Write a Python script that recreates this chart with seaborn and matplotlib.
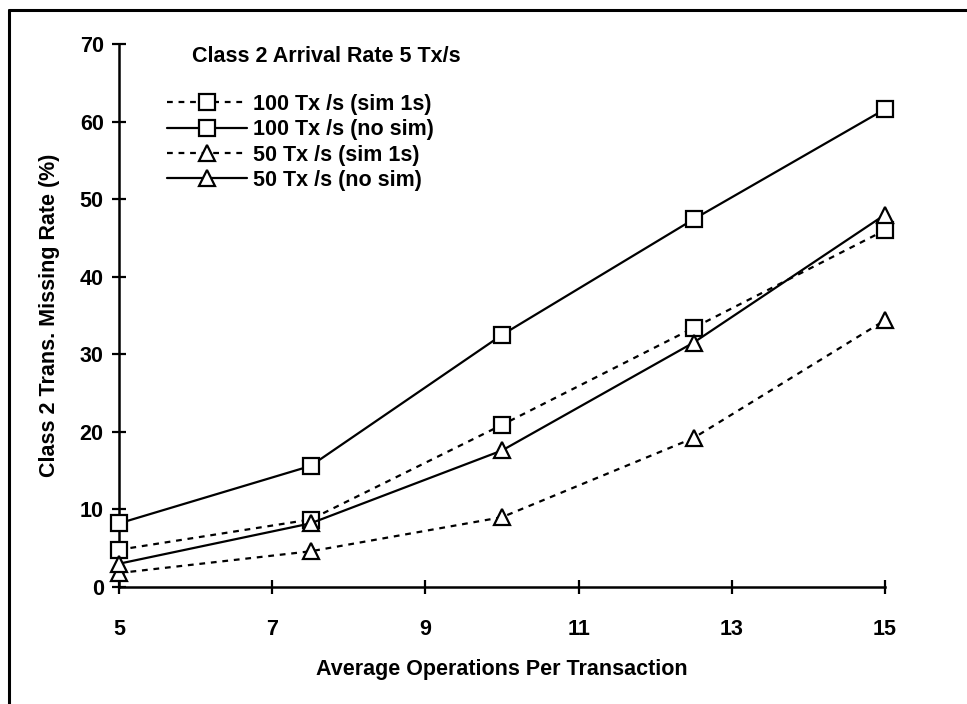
import matplotlib
matplotlib.use("Agg")
import matplotlib.pyplot as plt
from matplotlib.lines import Line2D
import seaborn as sns
import pandas as pd

# Average operations per transaction
ops = [5, 7.5, 10, 12.5, 15]

# Class 2 transaction missing rate (%)
rate_100_sim = [4.8, 8.7, 20.9, 33.4, 46.0]
rate_100_nosim = [8.2, 15.6, 32.5, 47.4, 61.6]
rate_50_sim = [1.8, 4.6, 9.0, 19.2, 34.4]
rate_50_nosim = [3.0, 8.2, 17.6, 31.5, 48.0]

series_labels = ["100 Tx /s (sim 1s)", "100 Tx /s (no sim)",
                 "50 Tx /s (sim 1s)", "50 Tx /s (no sim)"]
series_values = [rate_100_sim, rate_100_nosim, rate_50_sim, rate_50_nosim]
series_markers = ["s", "s", "^", "^"]
series_dashed = [True, False, True, False]

x_ticks = [5, 7, 9, 11, 13, 15]
y_ticks = [0, 10, 20, 30, 40, 50, 60, 70]

legend_title = "Class 2 Arrival Rate 5 Tx/s"
x_label = "Average Operations Per Transaction"
y_label = "Class 2 Trans. Missing Rate (%)"

sns.set_theme(style="white")
plt.rcParams["font.family"] = ["Liberation Sans", "DejaVu Sans"]
plt.rcParams["font.weight"] = "bold"
plt.rcParams["text.color"] = "black"
plt.rcParams["axes.labelcolor"] = "black"

FS = 15.5

fig = plt.figure(figsize=(9.67, 7.04), dpi=100)
ax = fig.add_axes([119 / 967, 1 - 587 / 704, 766 / 967, 543 / 704])

for label, vals, mk, dashed in zip(series_labels, series_values,
                                   series_markers, series_dashed):
    df = pd.DataFrame({"ops": ops, "rate": vals})
    sns.lineplot(data=df, x="ops", y="rate", ax=ax, color="black",
                 linewidth=1.6,
                 linestyle=(0, (2.6, 2.6)) if dashed else "-",
                 marker=mk, markersize=11 if mk == "s" else 11.5,
                 markerfacecolor="white", markeredgecolor="black",
                 markeredgewidth=1.6, label=label, legend=False,
                 clip_on=False, zorder=3)

ax.set_xlim(5, 15)
ax.set_ylim(0, 70)
ax.set_xticks(x_ticks)
ax.set_yticks(y_ticks)
ax.set_xticklabels([str(t) for t in x_ticks], fontsize=FS, fontweight="bold")
ax.set_yticklabels([str(t) for t in y_ticks], fontsize=FS, fontweight="bold")
ax.tick_params(axis="both", direction="inout", length=10, width=1.6,
               color="black", labelcolor="black", bottom=True, left=True)
ax.tick_params(axis="x", pad=18)
ax.tick_params(axis="y", pad=6)

for side in ["top", "right"]:
    ax.spines[side].set_visible(False)
for side in ["left", "bottom"]:
    ax.spines[side].set_color("black")
    ax.spines[side].set_linewidth(1.8)

ax.set_xlabel(x_label, fontsize=FS, fontweight="bold", labelpad=14, color="black")
ax.set_ylabel(y_label, fontsize=FS, fontweight="bold", labelpad=14, color="black")

ax.text((192 - 119) / 766, (587 - 57) / 543, legend_title, transform=ax.transAxes,
        fontsize=FS, fontweight="bold", ha="left", va="center", color="black")

leg = ax.legend(handles=ax.lines, labels=series_labels, loc="upper left",
                bbox_to_anchor=((167 - 119) / 766, (587 - 94) / 543),
                frameon=False, handlelength=3.7, handletextpad=0.3,
                labelspacing=0.2, borderpad=0, borderaxespad=0,
                prop={"weight": "bold", "size": FS})
for t in leg.get_texts():
    t.set_color("black")

# outer frame around the figure
fig.add_artist(Line2D([9 / 967, 1.0], [1 - 10 / 704, 1 - 10 / 704],
                      transform=fig.transFigure, color="black", linewidth=2.2))
fig.add_artist(Line2D([9 / 967, 9 / 967], [0.0, 1 - 10 / 704],
                      transform=fig.transFigure, color="black", linewidth=2.2))

fig.savefig("out.png", dpi=100)
